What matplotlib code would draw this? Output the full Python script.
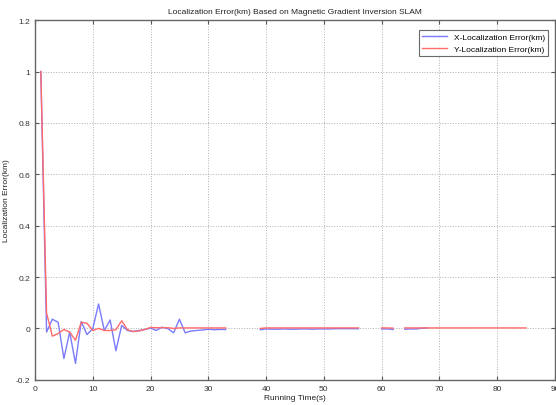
import numpy as np
import matplotlib.pyplot as plt

plt.rcParams['font.family'] = ['Liberation Sans Narrow', 'Liberation Sans', 'DejaVu Sans']

nan = np.nan

# Running time (s)
t_x = list(range(1, 69))
t_y = list(range(1, 86))

# X localization error (km)
x_err = [1.0, -0.014, 0.036, 0.024, -0.117, -0.014, -0.136, 0.027, -0.024, 0.0,
         0.095, -0.008, 0.033, -0.087, 0.012, -0.008, -0.012, -0.008, -0.004, 0.001,
         -0.008, 0.005, -0.001, -0.017, 0.036, -0.017, -0.010, -0.008, -0.006, -0.003,
         -0.005, -0.004, -0.004, nan, nan, nan, nan, nan, -0.005, -0.002,
         -0.003, -0.003, -0.002, -0.003, -0.003, -0.002, -0.002, -0.003, -0.002, -0.002,
         -0.002, -0.001, -0.001, -0.001, -0.001, -0.001, nan, nan, nan, -0.002,
         -0.002, -0.004, nan, -0.003, -0.002, -0.002, 0.001, 0.002]

# Y localization error (km)
y_err = [1.0, 0.06, -0.03, -0.02, -0.004, -0.014, -0.046, 0.024, 0.02, -0.008,
         0.0, -0.008, -0.008, -0.005, 0.03, -0.005, -0.012, -0.01, -0.004, 0.004,
         0.003, 0.003, 0.003, 0.0, 0.002, 0.002, 0.002, 0.002, 0.002, 0.002,
         0.002, 0.002, 0.002, nan, nan, nan, nan, nan, 0.0, 0.002,
         0.002, 0.002, 0.002, 0.002, 0.002, 0.002, 0.002, 0.002, 0.002, 0.002,
         0.002, 0.002, 0.002, 0.002, 0.002, 0.002, nan, nan, nan, 0.002,
         0.002, 0.001, nan, 0.002, 0.002, 0.002, 0.002, 0.002, 0.002, 0.002,
         0.002, 0.002, 0.002, 0.002, 0.002, 0.002, 0.002, 0.002, 0.002, 0.002,
         0.002, 0.002, 0.002, 0.002, 0.002]

fig = plt.figure(figsize=(5.56, 4.06), dpi=100)
ax = fig.add_axes([0.063, 0.062, 0.935, 0.886])

ax.plot(t_x, x_err, color='#7a7aff', lw=1.0, label='X-Localization Error(km)')
ax.plot(t_y, y_err, color='#ff6a6a', lw=1.0, label='Y-Localization Error(km)')

ax.set_xlim(0, 90)
ax.set_ylim(-0.2, 1.2)
ax.set_xticks(range(0, 91, 10))
ax.set_yticks([-0.2, 0, 0.2, 0.4, 0.6, 0.8, 1.0, 1.2])
ax.set_yticklabels(['-0.2', '0', '0.2', '0.4', '0.6', '0.8', '1', '1.2'])
ax.grid(True, linestyle=':', color='#b0b0b0', lw=0.7)
ax.tick_params(direction='in', top=True, right=True, labelsize=6, length=3,
               colors='#555555', labelcolor='#333333')
for s in ax.spines.values():
    s.set_color('#666666')
    s.set_linewidth(1.0)

ax.set_title('Localization Error(km) Based on Magnetic Gradient Inversion SLAM',
             fontsize=6, color='#222222', pad=5)
ax.set_xlabel('Running Time(s)', fontsize=6, color='#222222', labelpad=2)
ax.set_ylabel('Localization Error(km)', fontsize=6, color='#222222', labelpad=4)

leg = ax.legend(loc='upper right', fontsize=6, frameon=True, fancybox=False,
                edgecolor='#444444', handlelength=3.0, borderpad=0.4,
                labelspacing=0.5, bbox_to_anchor=(0.995, 0.985))
leg.get_frame().set_linewidth(0.8)

plt.savefig('out.png', dpi=100)
